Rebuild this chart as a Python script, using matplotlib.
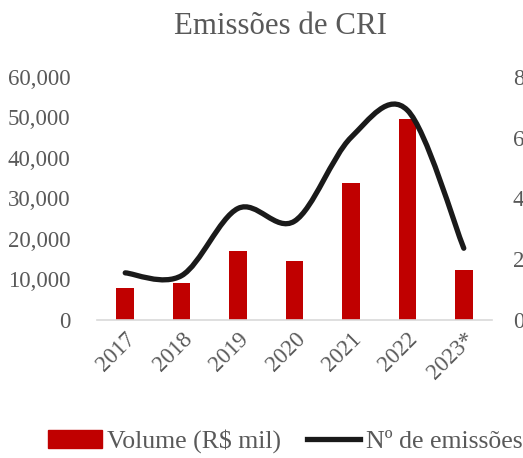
"""Emissões de CRI: volume (barras) e número de emissões (linha suavizada)."""
import matplotlib
matplotlib.use("Agg")
import matplotlib.pyplot as plt
import numpy as np
from matplotlib.path import Path
from matplotlib.patches import PathPatch
from matplotlib.lines import Line2D
from matplotlib.ticker import FuncFormatter

anos = ["2017", "2018", "2019", "2020", "2021", "2022", "2023*"]
volume = [7800, 9100, 16900, 14500, 33700, 49500, 12400]
emissoes = [155, 146, 367, 325, 600, 690, 236]

RED = "#C00000"
GRAY = "#595959"

plt.rcParams["font.family"] = ["Liberation Serif", "DejaVu Serif"]


def smooth_path(x, y):
    # Bezier à moda do Excel (Catmull-Rom)
    pts = np.column_stack([x, y]).astype(float)
    ext = np.vstack([pts[0], pts, pts[-1]])
    verts = [tuple(pts[0])]
    codes = [Path.MOVETO]
    for i in range(len(pts) - 1):
        p0, p1, p2, p3 = ext[i], ext[i + 1], ext[i + 2], ext[i + 3]
        c1 = p1 + (p2 - p0) / 6
        c2 = p2 - (p3 - p1) / 6
        verts += [tuple(c1), tuple(c2), tuple(p2)]
        codes += [Path.CURVE4] * 3
    return Path(verts, codes)


fig = plt.figure(figsize=(5.23, 4.58), dpi=100)
ax = fig.add_axes([0.1855, 0.3013, 0.7552, 0.5312])
ax2 = ax.twinx()

xpos = np.arange(len(anos))
ax.bar(xpos, volume, width=0.31, color=RED, zorder=2)
ax.set_xlim(-0.5, len(anos) - 0.5)
ax.set_ylim(0, 60000)
ax.set_yticks(np.arange(0, 60001, 10000))
ax.yaxis.set_major_formatter(FuncFormatter(lambda v, _: f"{int(v):,}"))
ax.set_xticks(xpos)
ax.set_xticklabels(anos, rotation=45, ha="right", rotation_mode="anchor")

ax2.set_ylim(0, 800)
ax2.set_yticks(np.arange(0, 801, 200))
ax2.add_patch(PathPatch(smooth_path(xpos, emissoes), fill=False,
                        edgecolor="#1a1a1a", lw=3.8, capstyle="round", zorder=3))

for a in (ax, ax2):
    for s in a.spines.values():
        s.set_visible(False)
ax.spines["bottom"].set_visible(True)
ax.spines["bottom"].set_color("#d9d9d9")
ax.spines["bottom"].set_linewidth(1.2)

ax.tick_params(axis="y", length=0, pad=19, labelsize=16.5, colors=GRAY)
ax.tick_params(axis="x", length=0, pad=6, labelsize=16.5, colors=GRAY)
ax2.tick_params(axis="y", length=0, pad=15, labelsize=16.5, colors=GRAY)

fig.text(280 / 523, 1 - 27 / 458, "Emissões de CRI", ha="center", va="center",
         fontsize=22.2, color=GRAY)

handles = [plt.Rectangle((0, 0), 1, 1, color=RED),
           Line2D([], [], color="#1a1a1a", lw=3.8)]
fig.legend(handles, ["Volume (R$ mil)", "Nº de emissões"], loc="center",
           bbox_to_anchor=(285 / 523, 1 - 441 / 458), ncol=2, frameon=False,
           fontsize=18.5, labelcolor=GRAY, handlelength=2.1, handletextpad=0.2,
           columnspacing=1.0)

fig.savefig("out.png", dpi=100)
